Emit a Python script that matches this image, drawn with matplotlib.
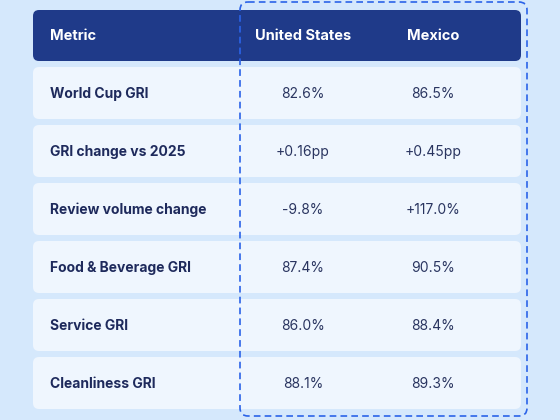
import matplotlib
matplotlib.use("Agg")
import matplotlib.pyplot as plt
from matplotlib.patches import FancyBboxPatch

headers = ["Metric", "United States", "Mexico"]
metrics = ["World Cup GRI", "GRI change vs 2025", "Review volume change",
           "Food & Beverage GRI", "Service GRI", "Cleanliness GRI"]
us_vals = ["82.6%", "+0.16pp", "-9.8%", "87.4%", "86.0%", "88.1%"]
mx_vals = ["86.5%", "+0.45pp", "+117.0%", "90.5%", "88.4%", "89.3%"]

plt.rcParams['font.family'] = ['Inter', 'DejaVu Sans']
fig = plt.figure(figsize=(5.6, 4.2), dpi=100, facecolor="#d5e8fc")
ax = fig.add_axes([0, 0, 1, 1])
ax.set_xlim(0, 560); ax.set_ylim(420, 0); ax.axis("off")
ax.set_facecolor("#d5e8fc")

x0, x1 = 33, 521
ax.add_patch(FancyBboxPatch((x0, 10), x1 - x0, 51, boxstyle="round,pad=0,rounding_size=6",
                            fc="#1f3a89", ec="none"))
ax.text(50, 36, headers[0], color="white", fontsize=10.5, weight="bold", va="center")
ax.text(303, 36, headers[1], color="white", fontsize=10.5, weight="bold", va="center", ha="center")
ax.text(433, 36, headers[2], color="white", fontsize=10.5, weight="bold", va="center", ha="center")

for i, (m, u, x) in enumerate(zip(metrics, us_vals, mx_vals)):
    top = 67 + i * 58
    ax.add_patch(FancyBboxPatch((x0, top), x1 - x0, 52, boxstyle="round,pad=0,rounding_size=6",
                                fc="#eff6fe", ec="none"))
    cy = top + 27
    ax.text(50, cy, m, color="#1e2a5c", fontsize=10, weight="bold", va="center")
    ax.text(303, cy, u, color="#2a3560", fontsize=10, va="center", ha="center")
    ax.text(433, cy, x, color="#2a3560", fontsize=10, va="center", ha="center")

ax.add_patch(FancyBboxPatch((240, 2), 287, 414, boxstyle="round,pad=0,rounding_size=8",
                            fc="none", ec="#2b63e8", lw=1.2, ls=(0, (4, 2.5))))
fig.savefig("out.png", dpi=100, facecolor=fig.get_facecolor())
